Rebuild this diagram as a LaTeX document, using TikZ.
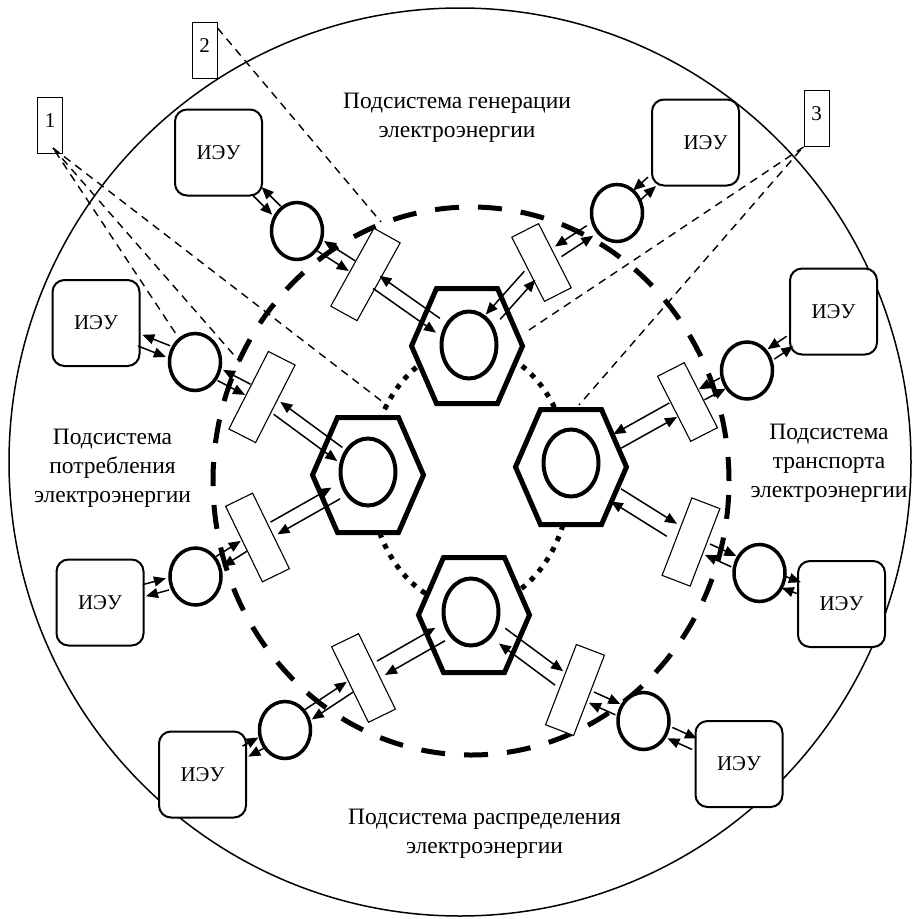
\documentclass[tikz,border=0pt]{standalone}
\usepackage{fontspec}
\setmainfont{Liberation Serif}
\usetikzlibrary{calc,arrows.meta,shapes.geometric}
\tikzset{
  hexline/.style={line width=5pt, fill=white, line join=miter},
  core/.style={ellipse, draw, line width=4pt, fill=white, minimum width=55pt, minimum height=67pt, inner sep=0pt},
  conv/.style={rectangle, draw, line width=1.1pt, fill=white, minimum height=30pt, inner sep=0pt},
  hub/.style={ellipse, draw, line width=3.5pt, fill=white, minimum width=51pt, minimum height=57pt, inner sep=0pt},
  ieu/.style={rectangle, rounded corners=12pt, draw, line width=2pt, fill=white, minimum width=87pt, minimum height=86pt, inner sep=0pt, font=\fontsize{21}{25}\selectfont},
  tag/.style={rectangle, draw, line width=1pt, minimum width=25pt, minimum height=56pt, inner sep=0pt, text depth=10pt, font=\fontsize{21}{25}\selectfont},
  caption/.style={align=center, font=\fontsize{23.5}{29}\selectfont},
  arr/.style={line width=1.5pt, -{Triangle[length=12pt,width=10pt]}},
  leader/.style={line width=1.4pt, dash pattern=on 8pt off 6pt},
  ring/.style={line width=1.5pt},
  zone/.style={line width=5pt, dash pattern=on 24pt off 19pt},
  core ring/.style={line width=5pt, dash pattern=on 5pt off 7pt},
  hexcell/.pic={\draw[hexline] (-30.5,-57.5) -- (30.5,-57.5) -- (55.5,0) -- (30.5,57.5) -- (-30.5,57.5) -- (-55.5,0) -- cycle;}
}
% two opposite arrows along the line from #1 to #2:
% first from distance #3 to #4 at side offset #7, second from #5 to #6 at the other side
\newcommand\duo[7]{%
  \draw[arr] ($(#1)!#3pt!(#2)!#7pt!90:(#2)$) -- ($(#1)!#4pt!(#2)!#7pt!90:(#2)$);
  \draw[arr] ($(#1)!#5pt!(#2)!#7pt!-90:(#2)$) -- ($(#1)!#6pt!(#2)!#7pt!-90:(#2)$);}
\begin{document}
\begin{tikzpicture}[x=1pt,y=-1pt]
\useasboundingbox (0,0) rectangle (914,919);
\fill[white] (0,0) rectangle (914,919);

% outer boundary of the system
\draw[ring] (460,462) ellipse [x radius=451pt, y radius=454pt];
% inner ring linking the four hubs
\draw[core ring] (470,477) ellipse [x radius=100pt, y radius=130pt];
% boundary of the power network
\draw[zone] (471,481) ellipse [x radius=258pt, y radius=274pt];

% hexagonal hubs
\coordinate (hexT) at (467,346);
\coordinate (hexL) at (368,475);
\coordinate (hexR) at (571,467);
\coordinate (hexB) at (474,615);
\foreach \h in {hexT,hexL,hexR,hexB} \pic at (\h) {hexcell};
\node[core] (hT) at (469,345) {};
\node[core] (hL) at (368,472) {};
\node[core] (hR) at (571,463) {};
\node[core] (hB) at (471,612) {};

% converters
\node[conv, minimum width=89pt, rotate=61]  (r1) at (365.5,274.5) {};
\node[conv, minimum width=72pt, rotate=117] (r2) at (541.5,262.5) {};
\node[conv, minimum width=87pt, rotate=63]  (r3) at (262,397) {};
\node[conv, minimum width=84pt, rotate=116] (r4) at (257.5,537.5) {};
\node[conv, minimum width=73pt, rotate=117] (r5) at (687.5,402) {};
\node[conv, minimum width=83pt, rotate=69]  (r6) at (691,542) {};
\node[conv, minimum width=84pt, rotate=116] (r7) at (363.5,678) {};
\node[conv, minimum width=86pt, rotate=69]  (r8) at (575,690) {};

% connection points
\node[hub] (c1) at (297,231) {};
\node[hub] (c2) at (617,213) {};
\node[hub] (c3) at (195,362) {};
\node[hub] (c4) at (195.5,576.5) {};
\node[hub] (c5) at (747,370.5) {};
\node[hub] (c6) at (759.5,573) {};
\node[hub] (c7) at (285,730) {};
\node[hub] (c8) at (643.5,721) {};

% energy units
\node[ieu] (b1) at (218.5,152.5) {ИЭУ};
\node[ieu] (b2) at (695.5,142.5) {\hspace*{20pt}ИЭУ};
\node[ieu] (b3) at (96,323) {ИЭУ};
\node[ieu] (b4) at (100,602.5) {ИЭУ};
\node[ieu] (b5) at (833.5,311.5) {ИЭУ};
\node[ieu] (b6) at (841.5,604) {ИЭУ};
\node[ieu] (b7) at (202.5,774.5) {ИЭУ};
\node[ieu] (b8) at (739,764) {ИЭУ};

% hub <-> converter
\duo{hexT}{r1}{38}{112}{110}{33}{-7}
\duo{hexT}{r2}{42}{95}{94}{36}{-7}
\duo{hexL}{r3}{37}{114}{112}{33}{-7}
\duo{hexL}{r4}{36}{108}{108}{38}{7}
\duo{hexR}{r5}{53}{117}{117}{53}{-8}
\duo{hexR}{r6}{54}{120}{118}{52}{8}
\duo{hexB}{r7}{38}{107}{107}{40}{8}
\duo{hexB}{r8}{33}{105}{107}{37}{8}

% converter <-> connection point
\duo{r1}{c1}{16}{53}{53}{16}{-6}
\duo{r2}{c2}{20}{58}{58}{20}{-6}
\duo{r3}{c3}{16}{47}{47}{16}{-6}
\duo{r4}{c4}{16}{45}{45}{16}{6}
\duo{r5}{c5}{16}{40}{40}{16}{-6}
\duo{r6}{c6}{18}{47}{47}{18}{6}
\duo{r7}{c7}{16}{66}{66}{16}{6}
\duo{r8}{c8}{18}{47}{47}{18}{6}

% connection point <-> energy unit
\duo{c1}{b1}{29}{56}{56}{29}{-6}
\duo{c2}{b2}{27}{47}{47}{27}{-6}
\duo{c3}{b3}{29}{59}{59}{29}{-6}
\duo{c4}{b4}{29}{53}{53}{29}{6}
\duo{c5}{b5}{29}{52}{52}{29}{-6}
\duo{c6}{b6}{26}{42}{42}{26}{6}
\duo{c7}{b7}{27}{45}{45}{27}{6}
\duo{c8}{b8}{29}{56}{56}{29}{6}

% numbered callouts
\node[tag] (tag1) at (50,125.5) {1};
\node[tag] (tag2) at (204.5,50.5) {2};
\node[tag] (tag3) at (816.5,118.5) {3};
\coordinate (q1a) at (388,406);
\coordinate (q1b) at (240,362);
\coordinate (q1c) at (176,334);
\coordinate (q2) at (381,222);
\coordinate (q3a) at (526,332);
\coordinate (q3b) at (579,405);
\draw[leader] ([shift={(3,-6)}]tag1.south) -- (q1a);
\draw[leader] ([shift={(3,-6)}]tag1.south) -- (q1b);
\draw[leader] ([shift={(5,-3)}]tag1.south) -- (q1c);
\draw[leader] ([shift={(0,6)}]tag2.north east) -- (q2);
\draw[leader] (tag3.south west) -- (q3a);
\draw[leader] ([shift={(-3,3)}]tag3.south west) -- (q3b);

% subsystem captions
\node[caption] (capG) at (457,118) {Подсистема генерации\\электроэнергии};
\node[caption] (capC) at (112.5,468) {Подсистема\\потребления\\электроэнергии};
\node[caption] (capT) at (829,463) {Подсистема\\транспорта\\электроэнергии};
\node[caption] (capD) at (484.5,834) {Подсистема распределения\\электроэнергии};
\end{tikzpicture}
\end{document}
